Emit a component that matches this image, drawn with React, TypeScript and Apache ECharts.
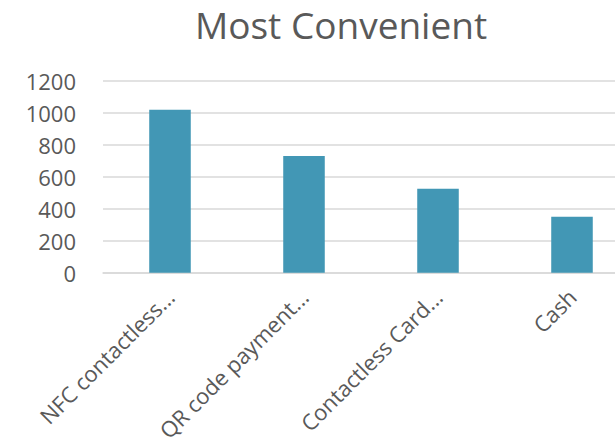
import React, { useEffect, useRef } from "react";
import * as echarts from "echarts";

const categories = ["NFC contactless...", "QR code payment...", "Contactless Card...", "Cash"];
const values = [1020, 730, 525, 350];
const yTicks = [0, 200, 400, 600, 800, 1000, 1200];
const title = "Most Convenient";

export default function App() {
  const ref = useRef<HTMLDivElement>(null);
  useEffect(() => {
    if (!ref.current) return;
    const chart = echarts.init(ref.current, null, { renderer: "svg" });
    chart.setOption({
      animation: false,
      backgroundColor: "#ffffff",
      title: {
        text: title,
        left: 336,
        textAlign: "center",
        top: 1,
        textStyle: { fontFamily: "Open Sans", fontSize: 37, fontWeight: "normal", color: "#595959" },
      },
      grid: { left: 103, right: 0, top: 81, bottom: 175.3, containLabel: false },
      xAxis: {
        type: "category",
        data: categories,
        axisLine: { lineStyle: { color: "#d9d9d9", width: 1.5 } },
        axisTick: { show: false },
        axisLabel: {
          rotate: 45,
          margin: 20,
          interval: 0,
          fontFamily: "Open Sans",
          fontSize: 22,
          color: "#595959",
        },
      },
      yAxis: {
        type: "value",
        min: yTicks[0],
        max: yTicks[yTicks.length - 1],
        interval: 200,
        axisLine: { show: false },
        axisTick: { show: false },
        splitLine: { lineStyle: { color: "#d9d9d9", width: 1.5 } },
        axisLabel: {
          margin: 27,
          fontFamily: "Open Sans",
          fontSize: 22,
          color: "#595959",
          formatter: (v: number) => String(v),
        },
      },
      series: [
        {
          type: "bar",
          data: values,
          barWidth: "31%",
          itemStyle: { color: "#4297b5" },
        },
      ],
    });
    return () => chart.dispose();
  }, []);
  return (
    <div style={{ width: 615, height: 448, position: "absolute", left: 0, top: 0, overflow: "hidden" }}>
      <div ref={ref} style={{ width: 639, height: 448, position: "absolute", left: 0, top: 0 }} />
    </div>
  );
}
